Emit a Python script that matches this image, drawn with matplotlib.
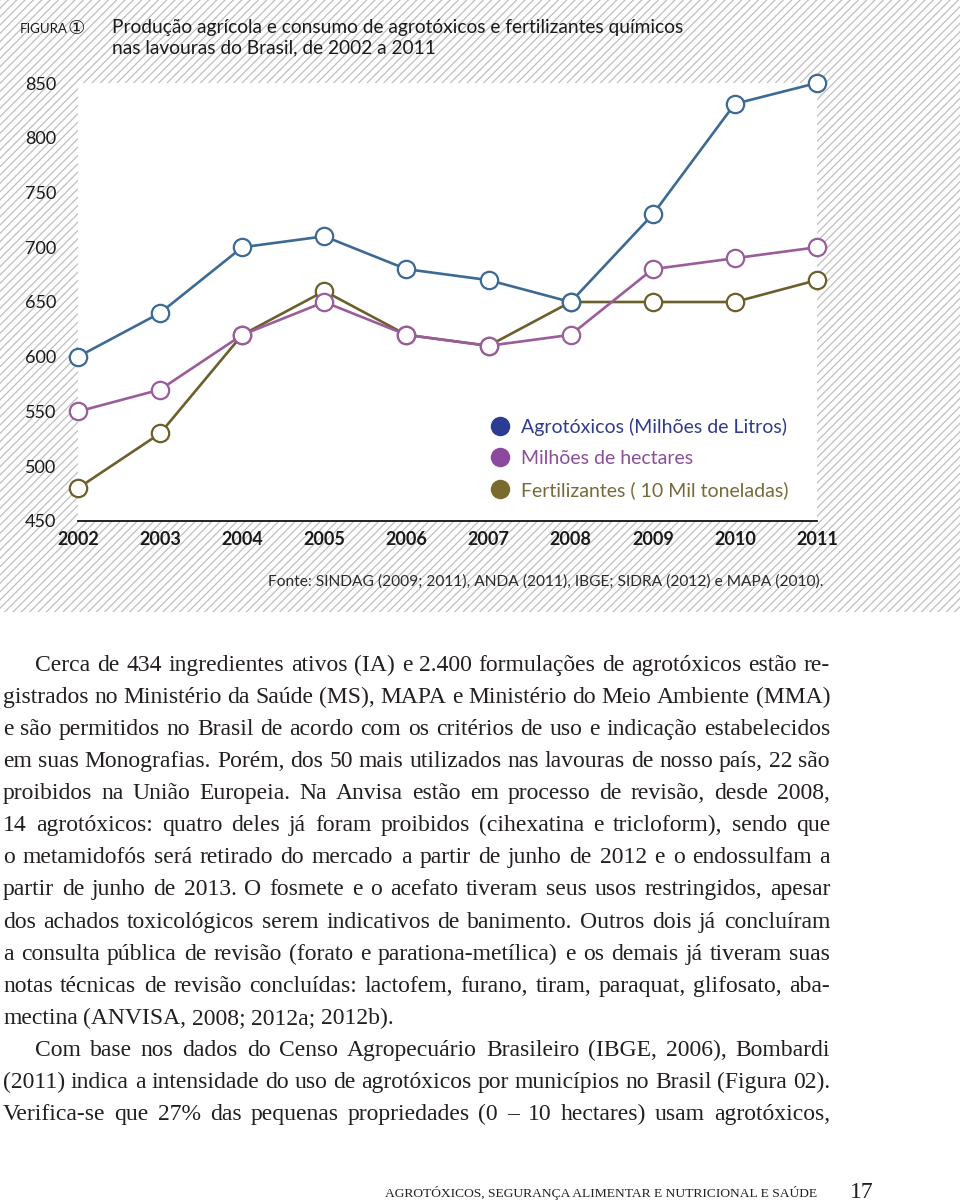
import numpy as np
import matplotlib
matplotlib.use('agg')
from matplotlib import pyplot as plt
from matplotlib.patches import Rectangle
from matplotlib.lines import Line2D

# ------------------------------- data -------------------------------
anos = [2002, 2003, 2004, 2005, 2006, 2007, 2008, 2009, 2010, 2011]
agrotoxicos = [600, 640, 700, 710, 680, 670, 650, 730, 831, 850]
hectares = [550, 570, 620, 650, 620, 610, 620, 680, 690, 700]
fertilizantes = [480, 530, 620, 660, 620, 610, 650, 650, 650, 670]
y_ticks = [450, 500, 550, 600, 650, 700, 750, 800, 850]
nomes = ['Agrotóxicos (Milhões de Litros)', 'Milhões de hectares',
         'Fertilizantes ( 10 Mil toneladas)']

titulo = ['Produção agrícola e consumo de agrotóxicos e fertilizantes químicos',
          'nas lavouras do Brasil, de 2002 a 2011']
fonte = 'Fonte: SINDAG (2009; 2011), ANDA (2011), IBGE; SIDRA (2012) e MAPA (2010).'

# (texto, recuo, justificado)
corpo = [
    ('Cerca de 434 ingredientes ativos (IA) e 2.400 formulações de agrotóxicos estão re-', True, True),
    ('gistrados no Ministério da Saúde (MS), MAPA e Ministério do Meio Ambiente (MMA)', False, True),
    ('e são permitidos no Brasil de acordo com os critérios de uso e indicação estabelecidos', False, True),
    ('em suas Monografias. Porém, dos 50 mais utilizados nas lavouras de nosso país, 22 são', False, True),
    ('proibidos na União Europeia. Na Anvisa estão em processo de revisão, desde 2008,', False, True),
    ('14 agrotóxicos: quatro deles já foram proibidos (cihexatina e tricloform), sendo que', False, True),
    ('o metamidofós será retirado do mercado a partir de junho de 2012 e o endossulfam a', False, True),
    ('partir de junho de 2013. O fosmete e o acefato tiveram seus usos restringidos, apesar', False, True),
    ('dos achados toxicológicos serem indicativos de banimento. Outros dois já concluíram', False, True),
    ('a consulta pública de revisão (forato e parationa-metílica) e os demais já tiveram suas', False, True),
    ('notas técnicas de revisão concluídas: lactofem, furano, tiram, paraquat, glifosato, aba-', False, True),
    ('mectina (ANVISA, 2008; 2012a; 2012b).', False, False),
    ('Com base nos dados do Censo Agropecuário Brasileiro (IBGE, 2006), Bombardi', True, True),
    ('(2011) indica a intensidade do uso de agrotóxicos por municípios no Brasil (Figura 02).', False, True),
    ('Verifica-se que 27% das pequenas propriedades (0 – 10 hectares) usam agrotóxicos,', False, True),
]
rodape = 'agrotóxicos, segurança alimentar e nutricional e saúde'
pagina = '17'

# ------------------------------- style -------------------------------
cor_linhas = ['#3d6a95', '#9a5c9b', '#6b5f2c']
cor_pontos = ['#2b3d93', '#8c4a9e', '#7a6a2e']
cor_texto = ['#2f3b8c', '#8a4e9a', '#786a38']
sans = 'Lato'
serif = 'Liberation Serif'
plt.rcParams['font.family'] = sans
plt.rcParams['hatch.linewidth'] = 0.85

W, H = 960, 1203
fig = plt.figure(figsize=(9.6, 12.03), dpi=100)


def fx(x):
    return x / W


def fy(y):
    return 1 - y / H


# background with diagonal hatch
bg = fig.add_axes([0, 0, 1, 1], zorder=-1)
bg.set_xlim(0, W)
bg.set_ylim(H, 0)
bg.axis('off')
bg.add_patch(Rectangle((0, 0), W, 612, facecolor='white', edgecolor='#bcbcbc',
                       hatch='////', linewidth=0))

# main chart
ax = fig.add_axes([fx(78), fy(521), (817 - 78) / W, (521 - 83) / H], zorder=1)
ax.set_facecolor('white')
ax.set_xlim(2002, 2011)
ax.set_ylim(450, 850)
for s in ['top', 'right', 'left']:
    ax.spines[s].set_visible(False)
ax.spines['bottom'].set_color('#111111')
ax.spines['bottom'].set_linewidth(1.3)

series = [agrotoxicos, hectares, fertilizantes]
for i in [2, 1, 0]:
    ax.plot(anos, series[i], color=cor_linhas[i], lw=1.9, marker='o', ms=12.5,
            mfc='white', mec=cor_linhas[i], mew=1.6, clip_on=False, zorder=3 - i)

ax.set_yticks(y_ticks)
ax.set_yticklabels([str(v) for v in y_ticks], fontsize=13, color='#1a1a1a')
ax.tick_params(axis='y', length=0, pad=38)
for lab in ax.get_yticklabels():
    lab.set_horizontalalignment('left')
ax.set_xticks(anos)
ax.set_xticklabels([str(a) for a in anos], fontsize=13, fontweight='bold', color='#1a1a1a')
ax.tick_params(axis='x', length=0, pad=7)

handles = [Line2D([], [], ls='none', marker='o', ms=13, color=c) for c in cor_pontos]
ax.legend(handles, nomes, loc='upper left', bbox_to_anchor=(fx(492), fy(418)),
          bbox_transform=fig.transFigure, frameon=False, handlelength=0.8,
          handletextpad=0.7, labelspacing=0.72, borderpad=0, borderaxespad=0,
          labelcolor=cor_texto, prop={'family': sans, 'size': 14})

# header
fig.text(fx(20), fy(29), 'FIGURA', fontsize=9.5, color='#1a1a1a', va='center')
fig.text(fx(76), fy(28), '①', fontsize=14, color='#1a1a1a', va='center', ha='center',
         family=['DejaVu Sans', 'Noto Sans CJK SC'])
fig.text(fx(112), fy(27), titulo[0], fontsize=13.8, color='#1a1a1a', va='center')
fig.text(fx(112), fy(48), titulo[1], fontsize=13.8, color='#1a1a1a', va='center')
fig.text(fx(268), fy(582), fonte, fontsize=11.2, color='#2a2a2a', va='center')

# body text, justified
r = fig.canvas.get_renderer()
y0, dy = 671, 32.07
for k, (linha, recuo, just) in enumerate(corpo):
    y = y0 + k * dy
    x0 = 35 if recuo else 3
    palavras = linha.split(' ')
    txts = [bg.text(0, y, p, fontsize=17, family=serif, color='#231f20', va='baseline')
            for p in palavras]
    larg = [t.get_window_extent(r).width for t in txts]
    if just:
        gap = (830 - x0 - sum(larg)) / (len(palavras) - 1)
    else:
        gap = 5.5
    x = x0
    for t, w in zip(txts, larg):
        t.set_x(x)
        x += w + gap

# footer
fig.text(fx(385), fy(1193), rodape.upper(), fontsize=9.7, family=serif,
         color='#231f20', va='center')
fig.text(fx(850), fy(1192), pagina, fontsize=17, family=serif, color='#231f20', va='center')

fig.savefig('out.png', dpi=100)
